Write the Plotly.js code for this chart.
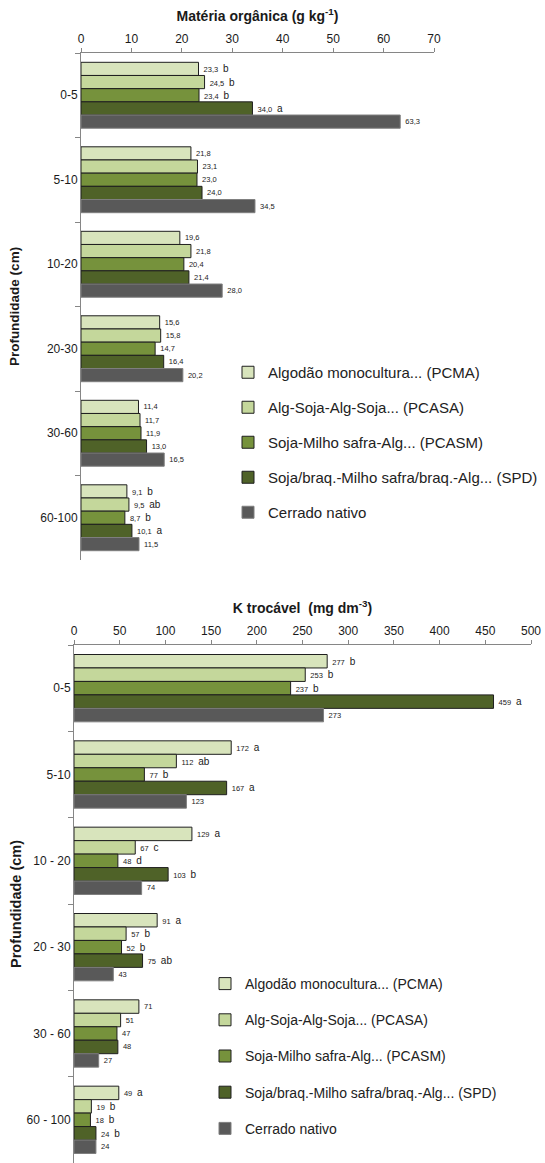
<!DOCTYPE html>
<html><head><meta charset="utf-8">
<script src="https://cdn.plot.ly/plotly-3.0.1.min.js"></script>
<style>html,body{margin:0;padding:0;background:#fff}</style>
</head><body><div id="chart" style="width:545px;height:1163px"></div>
<script>
// ---- data ----
const depthsMO = ["0-5", "5-10", "10-20", "20-30", "30-60", "60-100"];
const depthsK = ["0-5", "5-10", "10 - 20", "20 - 30", "30 - 60", "60 - 100"];
const seriesNames = [
  "Algodão monocultura... (PCMA)",
  "Alg-Soja-Alg-Soja... (PCASA)",
  "Soja-Milho safra-Alg... (PCASM)",
  "Soja/braq.-Milho safra/braq.-Alg... (SPD)",
  "Cerrado nativo"
];
// Matéria orgânica (g kg-1)
const moPCMA = [23.3, 21.8, 19.6, 15.6, 11.4, 9.1];
const moPCASA = [24.5, 23.1, 21.8, 15.8, 11.7, 9.5];
const moPCASM = [23.4, 23.0, 20.4, 14.7, 11.9, 8.7];
const moSPD = [34.0, 24.0, 21.4, 16.4, 13.0, 10.1];
const moCerrado = [63.3, 34.5, 28.0, 20.2, 16.5, 11.5];
const moLetPCMA = ["b", "", "", "", "", "b"];
const moLetPCASA = ["b", "", "", "", "", "ab"];
const moLetPCASM = ["b", "", "", "", "", "b"];
const moLetSPD = ["a", "", "", "", "", "a"];
const moLetCerrado = ["", "", "", "", "", ""];
// K trocável (mg dm-3)
const kPCMA = [277, 172, 129, 91, 71, 49];
const kPCASA = [253, 112, 67, 57, 51, 19];
const kPCASM = [237, 77, 48, 52, 47, 18];
const kSPD = [459, 167, 103, 75, 48, 24];
const kCerrado = [273, 123, 74, 43, 27, 24];
const kLetPCMA = ["b", "a", "a", "a", "", "a"];
const kLetPCASA = ["b", "ab", "c", "b", "", "b"];
const kLetPCASM = ["b", "b", "d", "b", "", "b"];
const kLetSPD = ["a", "a", "b", "ab", "", "b"];
const kLetCerrado = ["", "", "", "", "", ""];

// ---- styles ----
const FONT = "Liberation Sans, Arial, sans-serif";
const fills = ["#d8e4bc", "#c4d79b", "#76923c", "#4f6228", "#595959"];
const outlines = ["#1f1f1f", "#1f1f1f", "#1f1f1f", "#1f1f1f", "#7f7f7f"];
const H = 1163, W = 545;

function label(v, letter, dec) {
  const num = dec ? v.toFixed(1).replace(".", ",") : String(v);
  return " " + num + (letter ? ' <span style="font-size:10px"> ' + letter + "</span>" : "");
}

const moSeries = [moPCMA, moPCASA, moPCASM, moSPD, moCerrado];
const moLetters = [moLetPCMA, moLetPCASA, moLetPCASM, moLetSPD, moLetCerrado];
const kSeries = [kPCMA, kPCASA, kPCASM, kSPD, kCerrado];
const kLetters = [kLetPCMA, kLetPCASA, kLetPCASM, kLetSPD, kLetCerrado];

const labelFont = {family: FONT, size: 7.5, color: "#1a1a1a"};
const traces = [];
moSeries.forEach((vals, i) => {
  traces.push({
    type: "bar", orientation: "h", name: seriesNames[i],
    x: vals, y: depthsMO, xaxis: "x", yaxis: "y",
    legend: "legend", legendgroup: "mo" + i,
    marker: {color: fills[i], line: {color: outlines[i], width: 1}},
    text: vals.map((v, j) => label(v, moLetters[i][j], true)),
    textposition: "outside", cliponaxis: false, constraintext: "none",
    textfont: labelFont, outsidetextfont: labelFont,
    hoverinfo: "x+name"
  });
});
kSeries.forEach((vals, i) => {
  traces.push({
    type: "bar", orientation: "h", name: seriesNames[i],
    x: vals, y: depthsK, xaxis: "x2", yaxis: "y2",
    legend: "legend2", legendgroup: "k" + i,
    marker: {color: fills[i], line: {color: outlines[i], width: 1}},
    text: vals.map((v, j) => label(v, kLetters[i][j], false)),
    textposition: "outside", cliponaxis: false, constraintext: "none",
    textfont: labelFont, outsidetextfont: labelFont,
    hoverinfo: "x+name"
  });
});

const axisCommon = {
  showgrid: false, zeroline: false, showline: true, linecolor: "#868686", linewidth: 1,
  ticks: "outside", tickcolor: "#868686", ticklen: 4,
  tickfont: {family: FONT, size: 12, color: "#1a1a1a"}, automargin: false
};

const layout = {
  width: W, height: H,
  margin: {l: 0, r: 0, t: 0, b: 0},
  paper_bgcolor: "#fff", plot_bgcolor: "rgba(0,0,0,0)",
  font: {family: FONT, color: "#1a1a1a"},
  barmode: "group", bargap: 0.22, bargroupgap: 0,
  xaxis: Object.assign({}, axisCommon, {
    domain: [81 / W, 434 / W], range: [0, 70], dtick: 10, side: "top", anchor: "y",
    title: {text: "<b>Matéria orgânica (g kg<sup>-1</sup>)</b>", font: {family: FONT, size: 14, color: "#1a1a1a"}, standoff: 7}
  }),
  yaxis: Object.assign({}, axisCommon, {
    domain: [1 - 560 / H, 1 - 53 / H], type: "category", autorange: "reversed", anchor: "x",
    tickson: "boundaries", ticklen: 5,
    title: {text: "<b>Profundidade (cm)</b>", font: {family: FONT, size: 13.5, color: "#1a1a1a"}, standoff: 17}
  }),
  xaxis2: Object.assign({}, axisCommon, {
    domain: [74 / W, 531 / W], range: [0, 500], dtick: 50, side: "top", anchor: "y2",
    title: {text: "<b>K trocável  (mg dm<sup>-3</sup>)</b>", font: {family: FONT, size: 14, color: "#1a1a1a"}, standoff: 7}
  }),
  yaxis2: Object.assign({}, axisCommon, {
    domain: [0, 1 - 645 / H], type: "category", autorange: "reversed", anchor: "x2",
    tickson: "boundaries", ticklen: 5,
    title: {text: "<b>Profundidade (cm)</b>", font: {family: FONT, size: 14.5, color: "#1a1a1a"}, standoff: 1}
  }),
  legend: {
    x: 228 / W, y: 1 - 356 / H, xanchor: "left", yanchor: "top",
    font: {family: FONT, size: 15, color: "#222"}, tracegroupgap: 12.5,
    bgcolor: "rgba(0,0,0,0)", traceorder: "grouped"
  },
  legend2: {
    x: 205 / W, y: 1 - 968 / H, xanchor: "left", yanchor: "top",
    font: {family: FONT, size: 14, color: "#222"}, tracegroupgap: 15,
    bgcolor: "rgba(0,0,0,0)", traceorder: "grouped"
  },
  showlegend: true
};

Plotly.newPlot("chart", traces, layout, {displayModeBar: false, responsive: false});
</script>
</body></html>
